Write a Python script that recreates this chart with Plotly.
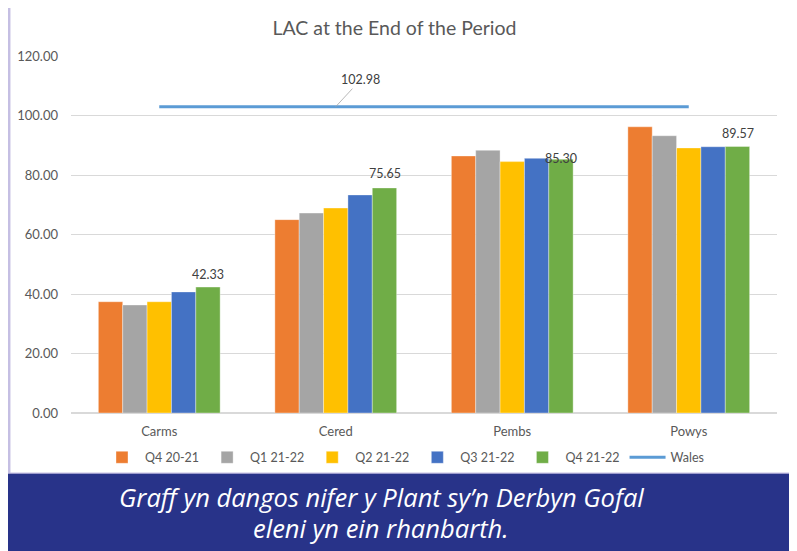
import plotly.graph_objects as go

categories = ["Carms", "Cered", "Pembs", "Powys"]
series_names = ["Q4 20-21", "Q1 21-22", "Q2 21-22", "Q3 21-22", "Q4 21-22"]
q4_20_21 = [37.4, 65.0, 86.4, 96.2]
q1_21_22 = [36.3, 67.2, 88.3, 93.2]
q2_21_22 = [37.4, 68.9, 84.5, 89.1]
q3_21_22 = [40.7, 73.3, 85.6, 89.5]
q4_21_22 = [42.33, 75.65, 85.30, 89.57]
wales = [102.98, 102.98, 102.98, 102.98]
y_ticks = [0, 20, 40, 60, 80, 100, 120]

colors = ["#ED7D31", "#A5A5A5", "#FFC000", "#4472C4", "#70AD47"]
all_series = [q4_20_21, q1_21_22, q2_21_22, q3_21_22, q4_21_22]

# page has an 8px body margin; work in window pixels and subtract it
OFF = 8
WIN_W, WIN_H = 797, 551
W, H = WIN_W - OFF, WIN_H - OFF
PL, PR, PT, PB = 71, 777, 56, 413.3  # plot area in window px
L = PL - OFF
T = PT - OFF
R = W - (PR - OFF)
B = H - (PB - OFF)
pw = W - L - R
ph = H - T - B

def px(x):
    return (x - OFF - L) / pw

def py(y):
    return 1 - (y - OFF - T) / ph

def cx(x):
    return (x - OFF) / W

def cy(y):
    return 1 - (y - OFF) / H

fig = go.Figure()
for name, vals, c in zip(series_names, all_series, colors):
    fig.add_trace(go.Bar(
        x=categories, y=vals, name=name,
        marker=dict(color=c, line=dict(color="rgba(255,255,255,0.6)", width=0.6)),
        hoverinfo="x+y",
    ))

fig.add_trace(go.Scatter(
    x=categories, y=wales, name="Wales", mode="lines",
    line=dict(color="#5B9BD5", width=3),
))

annotations = []
label_shift = [12, 13, 0, 12]
for cat, v, s in zip(categories, q4_21_22, label_shift):
    annotations.append(dict(
        x=cat, y=v, text=f"{v:.2f}", showarrow=False,
        xshift=2 * 24.5, yshift=s + 1,
        font=dict(family="Lato, sans-serif", size=12.5, color="#404040"),
    ))

annotations.append(dict(
    x=1.0, y=wales[0], xref="x", yref="y", text=f"{wales[0]:.2f}",
    showarrow=True, arrowhead=0, arrowwidth=0.8, arrowcolor="#A6A6A6",
    ax=25, ay=-27, standoff=0,
    font=dict(family="Lato, sans-serif", size=12.5, color="#404040"),
))

annotations.append(dict(
    xref="paper", yref="paper", x=px(381), y=py(497),
    text="<i>Graff yn dangos nifer y Plant sy’n Derbyn Gofal</i>",
    showarrow=False, xanchor="center", yanchor="middle",
    font=dict(family="Open Sans, sans-serif", size=25.5, color="white"),
))
annotations.append(dict(
    xref="paper", yref="paper", x=px(381), y=py(528),
    text="<i>eleni yn ein rhanbarth.</i>",
    showarrow=False, xanchor="center", yanchor="middle",
    font=dict(family="Open Sans, sans-serif", size=25.5, color="white"),
))

shapes = [
    dict(type="rect", xref="paper", yref="paper",
         x0=px(9.2), x1=px(793), y0=py(474), y1=py(4.2),
         line=dict(color="#C5BFE3", width=2.5), fillcolor="rgba(0,0,0,0)", layer="below"),
    dict(type="rect", xref="paper", yref="paper",
         x0=px(8), x1=px(WIN_W + 4), y0=py(WIN_H + 4), y1=py(474),
         line=dict(width=0), fillcolor="#283389", layer="above"),
]

fig.update_layout(
    width=W, height=H,
    margin=dict(l=L, r=R, t=T, b=B, autoexpand=False),
    paper_bgcolor="white", plot_bgcolor="white",
    barmode="group", bargap=0.31, bargroupgap=0,
    title=dict(text="LAC at the End of the Period", x=cx(394.5), xanchor="center",
               y=cy(28), yanchor="middle",
               font=dict(family="Lato, sans-serif", size=19.5, color="#595959")),
    font=dict(family="Lato, sans-serif", size=12.5, color="#595959"),
    xaxis=dict(showgrid=False, showline=True, linecolor="#D9D9D9", linewidth=1,
               ticks="", ticklabelstandoff=6, tickfont=dict(size=13, color="#595959")),
    yaxis=dict(range=[0, 120], tickvals=y_ticks,
               ticktext=[f"{v:.2f}" for v in y_ticks],
               showgrid=True, gridcolor="#D9D9D9", gridwidth=1,
               zeroline=True, zerolinecolor="#D9D9D9", showline=False,
               ticks="", ticklabelstandoff=12,
               tickfont=dict(size=13, color="#595959")),
    legend=dict(orientation="h", x=px(404), xanchor="center", y=py(458), yanchor="middle",
                font=dict(size=12.5, color="#595959"), itemwidth=36,
                traceorder="normal", bgcolor="rgba(0,0,0,0)"),
    annotations=annotations,
    shapes=shapes,
    showlegend=True,
)

fig.write_html("out.html")
